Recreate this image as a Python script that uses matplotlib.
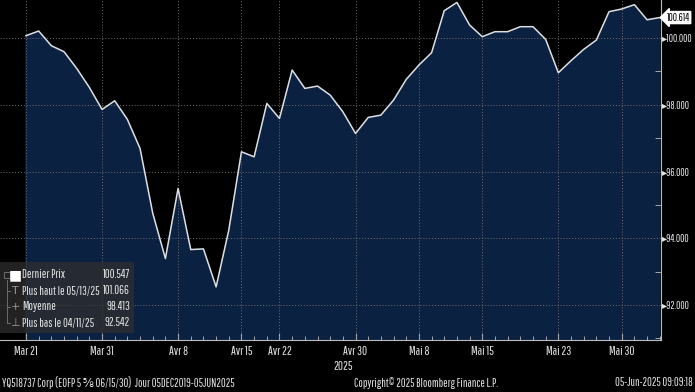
import numpy as np
import matplotlib.pyplot as plt
from matplotlib.patches import Rectangle
from matplotlib import font_manager as fm

# pick a narrow face, Bloomberg style
installed = set(f.name for f in fm.fontManager.ttflist)
narrow = [n for n in ['Liberation Sans Narrow', 'Arial Narrow', 'Pathway Gothic One',
                      'Sofia Sans Extra Condensed', 'Saira Extra Condensed',
                      'Fira Sans Extra Condensed', 'Barlow Condensed', 'Roboto Condensed']
          if n in installed]
plt.rcParams['font.family'] = narrow[:1] + ['DejaVu Sans']

# trading days shown on the chart (Easter + May 1 closed)
dates = ['03-21', '03-24', '03-25', '03-26', '03-27', '03-28', '03-31',
         '04-01', '04-02', '04-03', '04-04', '04-07', '04-08', '04-09',
         '04-10', '04-11', '04-14', '04-15', '04-16', '04-17', '04-22',
         '04-23', '04-24', '04-25', '04-28', '04-29', '04-30', '05-02',
         '05-05', '05-06', '05-07', '05-08', '05-09', '05-12', '05-13',
         '05-14', '05-15', '05-16', '05-19', '05-20', '05-21', '05-22',
         '05-23', '05-26', '05-27', '05-28', '05-29', '05-30', '06-02',
         '06-03', '06-04']
prices = [100.07, 100.21, 99.77, 99.59, 99.09, 98.52, 97.86,
          98.12, 97.56, 96.69, 94.75, 93.39, 95.49, 93.66,
          93.68, 92.542, 94.24, 96.59, 96.44, 98.04, 97.59,
          99.04, 98.49, 98.56, 98.29, 97.79, 97.14, 97.62,
          97.69, 98.14, 98.76, 99.19, 99.56, 100.82, 101.066,
          100.39, 100.04, 100.19, 100.19, 100.34, 100.34, 99.96,
          98.96, 99.32, 99.66, 99.94, 100.79, 100.87, 101.00,
          100.547, 100.614]

tick_dates = ['03-21', '03-31', '04-08', '04-15', '04-22', '04-30',
              '05-08', '05-15', '05-23', '05-30']
tick_labels = ['Mar 21', 'Mar 31', 'Avr 8', 'Avr 15', 'Avr 22', 'Avr 30',
               'Mai 8', 'Mai 15', 'Mai 23', 'Mai 30']
y_ticks = [92, 94, 96, 98, 100]

legend_names = ['Dernier Prix', 'Plus haut le 05/13/25', 'Moyenne', 'Plus bas le 04/11/25']
legend_values = ['100.547', '101.066', '98.413', '92.542']
last_value = 100.614

W, H = 695, 392
fig = plt.figure(figsize=(W / 100, H / 100), dpi=100, facecolor='black')
renderer = fig.canvas.get_renderer()


def fit_size(s, px, cap=9.0):
    # font size that makes string s about px pixels wide
    t = fig.text(0, 0, s, fontsize=10)
    w = t.get_window_extent(renderer).width
    t.remove()
    return min(10 * px / w, cap)


fs_tick = fit_size('Mar 31', 24)
fs_y = fit_size('100.000', 25)
fs_leg = fit_size('Plus haut le 05/13/25', 77)
fs_foot = fit_size('Copyright\u00a9 2025 Bloomberg Finance L.P.', 142)

ax = fig.add_axes([0, 1 - 340 / H, 661 / W, 340 / H], facecolor='black')

x = np.arange(len(prices))
ax.fill_between(x, prices, 80, color='#0b2142', zorder=1)
ax.plot(x, prices, color='#dedede', lw=1.1, zorder=3)

ax.set_xlim(-2.05, 50.1)
ax.set_ylim(90.95, 101.14)

tick_pos = [dates.index(d) for d in tick_dates]
for p in tick_pos:
    ax.axvline(p, color='#6e6e6e', lw=0.7, ls=(0, (1, 2)), zorder=2)
for v in y_ticks:
    ax.axhline(v, color='#6e6e6e', lw=0.7, ls=(0, (1, 2)), zorder=2)

for s in ['top', 'left']:
    ax.spines[s].set_visible(False)
ax.spines['right'].set_color('#bbbbbb')
ax.spines['bottom'].set_color('#bbbbbb')

ax.set_xticks(tick_pos)
ax.set_xticklabels(tick_labels)
ax.set_xticks(x, minor=True)
ax.tick_params(axis='x', which='both', direction='in', colors='#bbbbbb',
               labelcolor='#e6e6e6', labelsize=fs_tick, pad=4)
ax.tick_params(axis='x', which='major', length=5)
ax.tick_params(axis='x', which='minor', length=3)

ax.yaxis.tick_right()
ax.set_yticks(y_ticks)
ax.set_yticklabels(['\u25b8' + f'{v:.3f}' for v in y_ticks])
ax.set_yticks(np.arange(91, 101, 2), minor=True)
ax.tick_params(axis='y', which='major', length=0, pad=1, labelsize=fs_y,
               labelcolor='#e6e6e6')
ax.tick_params(axis='y', which='minor', direction='in', length=4, color='#bbbbbb')

ax.annotate(f'{last_value:.3f}', xy=(1, last_value), xycoords=('axes fraction', 'data'),
            xytext=(4, 0), textcoords='offset points', va='center', ha='left',
            fontsize=fs_y, color='black',
            bbox=dict(boxstyle='larrow,pad=0.1', fc='white', ec='white'),
            annotation_clip=False)

# legend box
fig.patches.append(Rectangle((0, 1 - 333 / H), 134 / W, 71 / H, transform=fig.transFigure,
                             facecolor='#2e2e2e', alpha=0.75, edgecolor='none', zorder=5))
rows = [275, 291, 307, 323]
icons = ['\u25a0', 'T', '+', '\u22a5']
icon_sizes = [10, 8, 8, 8]
for yy, ic, isz, name, val in zip(rows, icons, icon_sizes, legend_names, legend_values):
    fig.text(15 / W, 1 - yy / H, ic, color='white' if ic == '\u25a0' else '#999999',
             fontsize=isz, family='DejaVu Sans', ha='center', va='center', zorder=6)
    fig.text(22 / W, 1 - yy / H, name, color='#e6e6e6', fontsize=fs_leg,
             ha='left', va='center', zorder=6)
    fig.text(130 / W, 1 - yy / H, val, color='#e6e6e6', fontsize=fs_leg,
             ha='right', va='center', zorder=6)
# tree lines of the legend
fig.lines.append(plt.Line2D([7 / W, 7 / W], [1 - 280 / H, 1 - 323 / H], transform=fig.transFigure,
                            color='#777777', lw=0.6, zorder=6))
for yy in rows[1:]:
    fig.lines.append(plt.Line2D([7 / W, 10 / W], [1 - yy / H, 1 - yy / H],
                                transform=fig.transFigure, color='#777777', lw=0.6, zorder=6))
fig.patches.append(Rectangle((4 / W, 1 - 278 / H), 6 / W, 6 / H, transform=fig.transFigure,
                             facecolor='none', edgecolor='#777777', lw=0.6, zorder=6))

fig.text(343 / W, 1 - 367 / H, '2025', color='#e6e6e6', fontsize=fs_tick, ha='center', va='center')
fig.text(2 / W, 1 - 383 / H, 'YQ518737 Corp (EOFP 5 \u215d 06/15/30)  Jour 05DEC2019-05JUN2025',
         color='#e6e6e6', fontsize=fs_foot, ha='left', va='center')
fig.text(426 / W, 1 - 383 / H, 'Copyright\u00a9 2025 Bloomberg Finance L.P.',
         color='#e6e6e6', fontsize=fs_foot, ha='center', va='center')
fig.text(693 / W, 1 - 383 / H, '05-Jun-2025 09:09:18',
         color='#e6e6e6', fontsize=fs_foot, ha='right', va='center')

fig.savefig('out.png', dpi=100, facecolor='black')
